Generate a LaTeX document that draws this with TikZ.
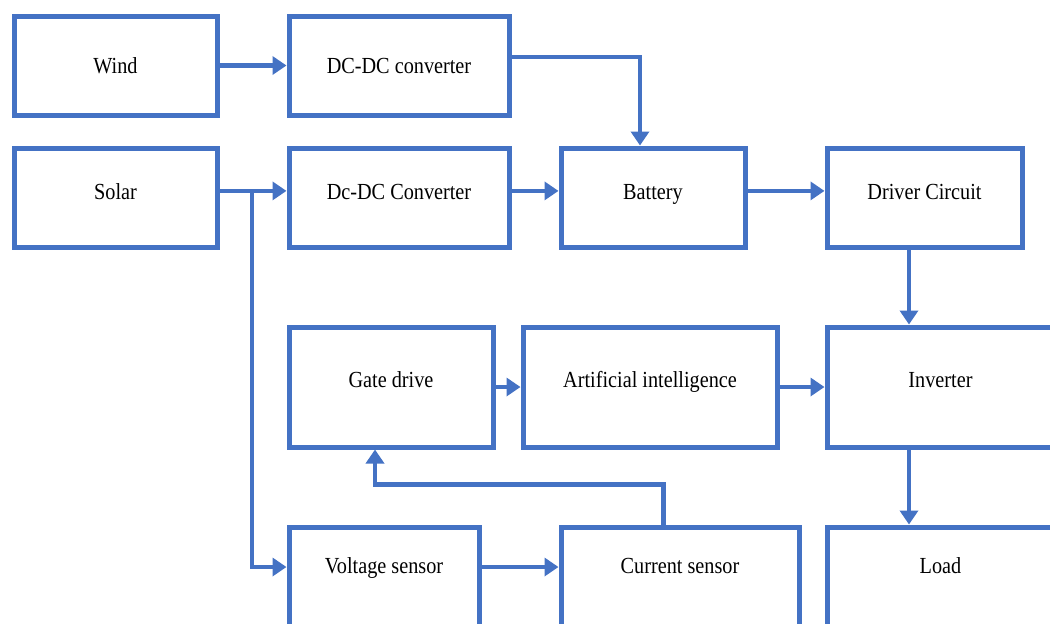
\documentclass[tikz,border=0pt]{standalone}
\usepackage{fontspec}
\setmainfont{Liberation Serif}[FakeStretch=0.88]
\usetikzlibrary{arrows.meta}
\definecolor{lineblue}{HTML}{4472C4}
\tikzset{
  box/.style={draw=lineblue, line width=2.5pt, rectangle, inner sep=0pt,
    font=\fontsize{11.5pt}{13.5pt}\selectfont, text height=8.5pt, align=center},
  rowone/.style={box, minimum height=49.5pt, text depth=0.9pt},
  rowtwo/.style={box, minimum height=49.5pt, text depth=6.4pt},
  rowthree/.style={box, minimum height=60pt, text depth=7.9pt},
  rowfour/.style={box, minimum height=50pt, text depth=11.9pt},
  arr/.style={draw=lineblue, line width=2.4pt, -{Triangle[length=7pt,width=9pt]}},
  wire/.style={draw=lineblue, line width=2.4pt}
}
\begin{document}
\begin{tikzpicture}[x=0.5pt,y=-0.5pt]
\clip (0,0) rectangle (1050,623);
% row 1
\node[rowone, minimum width=101.5pt] (wind) at (115.5,65.5) {Wind};
\node[rowone, minimum width=110pt] (dcdc1) at (399,65.5) {DC-DC converter};
% row 2
\node[rowtwo, minimum width=101.5pt] (solar) at (115.5,197.5) {Solar};
\node[rowtwo, minimum width=110pt] (dcdc2) at (399,197.5) {Dc-DC Converter};
\node[rowtwo, minimum width=92pt] (battery) at (653,197.5) {Battery};
\node[rowtwo, minimum width=97.5pt] (driver) at (924.5,197.5) {Driver Circuit};
% row 3
\node[rowthree, minimum width=102pt] (gate) at (391,387) {Gate drive};
\node[rowthree, minimum width=127pt] (ai) at (650,387) {Artificial intelligence};
\node[rowthree, minimum width=113.5pt] (inverter) at (940.5,387) {Inverter};
% row 4
\node[rowfour, minimum width=95pt] (volt) at (384,577) {Voltage sensor};
\node[rowfour, minimum width=119pt] (current) at (680,577) {Current sensor};
\node[rowfour, minimum width=113.5pt] (load) at (940.5,577) {Load};
% connectors
\draw[arr] (wind) -- (dcdc1);
\draw[arr] ([yshift=4.25pt]dcdc1.east) -| ([xshift=-6.5pt]battery.north);
\draw[arr] ([yshift=3.3pt]solar.east) -- ([yshift=3.3pt]dcdc2.west);
\coordinate (br) at (252,191);
\draw[arr] (br) |- ([yshift=5pt]volt.west);
\draw[arr] ([yshift=3.3pt]dcdc2.east) -- ([yshift=3.3pt]battery.west);
\draw[arr] ([yshift=3.3pt]battery.east) -- ([yshift=3.3pt]driver.west);
\draw[arr] ([xshift=-7.75pt]driver.south) -- ([xshift=-7.75pt]driver.south |- inverter.north);
\draw[arr] ([xshift=-15.75pt]inverter.south) -- ([xshift=-15.75pt]load.north);
\draw[arr] (gate) -- (ai);
\draw[arr] (ai) -- (inverter);
\draw[arr] ([xshift=-8.2pt]current.north) -- ++(0,-40) -| ([xshift=-8pt]gate.south);
\draw[arr] ([yshift=5pt]volt.east) -- ([yshift=5pt]current.west);
\end{tikzpicture}
\end{document}
